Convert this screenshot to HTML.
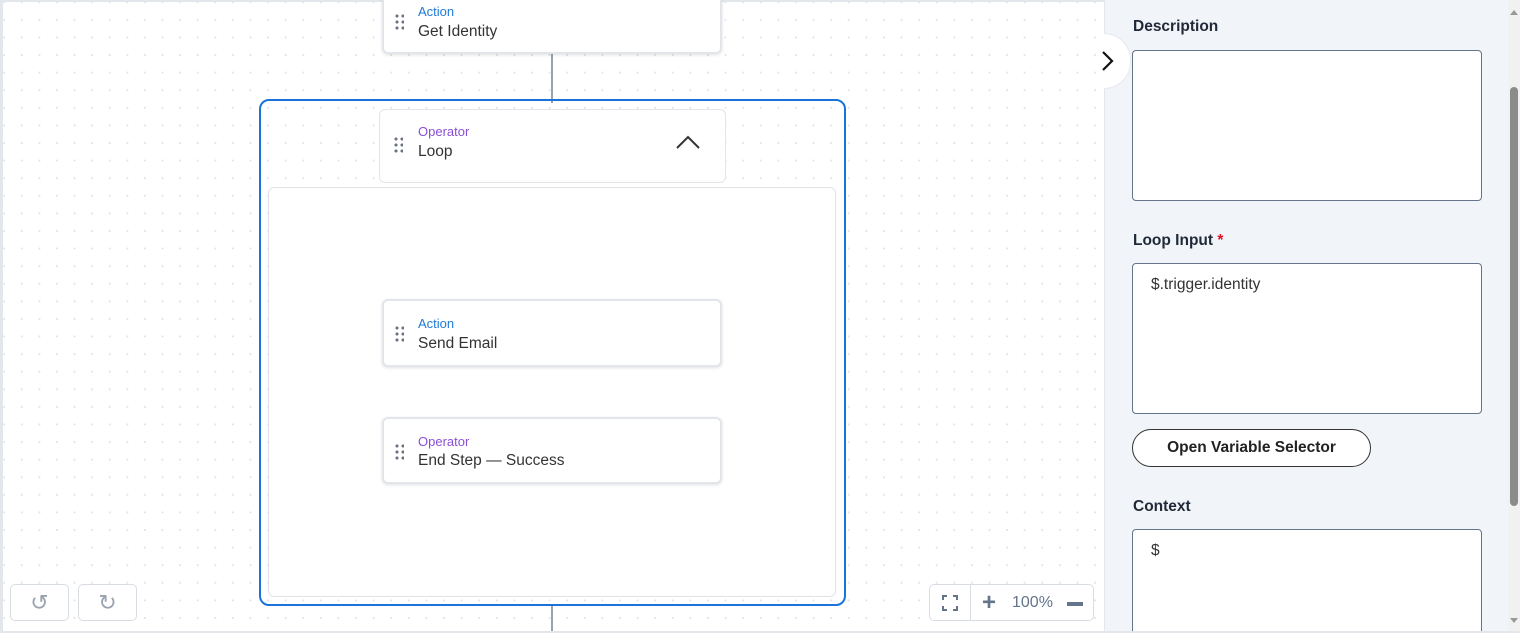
<!DOCTYPE html>
<html><head><meta charset="utf-8"><style>
*{box-sizing:border-box;margin:0;padding:0}
html,body{width:1520px;height:640px;overflow:hidden}
body{background:#fff;font-family:"Liberation Sans",sans-serif;position:relative}
.canvas{position:absolute;left:0;top:0;width:1104px;height:632px;background-color:#fff;background-image:radial-gradient(circle,#e1e4e8 0.9px,transparent 1.2px);background-size:17.6px 17.6px;background-position:10px 9px;border-top:2px solid #e3e7ec;border-left:3px solid #e3e7ec}
.abs{position:absolute}
.node{position:absolute;background:#fff;border:2px solid #e2e5e9;border-radius:6px;box-shadow:0 1px 3px rgba(0,0,0,.12)}
.grip{position:absolute;left:10px;width:10px;height:18px;background-image:radial-gradient(circle,#6b7280 1.4px,transparent 1.7px);background-size:6px 6px}
.t1{position:absolute;left:34px;font-size:13px}
.t2{position:absolute;left:34px;font-size:15.5px;color:#333}
.blue{color:#1e7ad8}.purple{color:#8a4fd6}
.line{position:absolute;left:551px;width:2px;background:#9aa3ad}
.panel{position:absolute;left:1104px;top:0;width:404px;height:632px;background:#f1f5f9;border-left:1px solid #e3e7ec;overflow:hidden}
.lbl{position:absolute;left:28px;font-size:15.5px;font-weight:bold;color:#1f2937}
.ta{position:absolute;left:27px;width:350px;background:#fff;border:1px solid #64748b;border-radius:4px;font-size:15.5px;color:#333;padding:12px 18px}
.btn{position:absolute;background:#fff;border:1px solid #d8dde3;border-radius:5px;color:#9aa3ad;font-size:22px;text-align:center}
</style></head><body>
<div class="canvas"></div>
<div class="line" style="top:53px;height:50px"></div>
<div class="line" style="top:366px;height:51px"></div>
<div class="line" style="top:605px;height:27px"></div>
<div class="node" style="left:382px;top:-12px;width:340px;height:66px"><div class="grip" style="top:23px"></div><div class="t1 blue" style="top:14px">Action</div><div class="t2" style="top:33px">Get Identity</div></div>
<div class="abs" style="left:259px;top:99px;width:587px;height:507px;border:2px solid #1a73d9;border-radius:10px"></div>
<div class="abs" style="left:268px;top:187px;width:568px;height:410px;border:1px solid #dfe3e8;border-radius:6px;background:#fff"></div>
<div class="node" style="left:379px;top:109px;width:347px;height:74px;box-shadow:none;border-width:1px"><div class="grip" style="top:26px;left:13px"></div><div class="t1 purple" style="top:14px;left:38px">Operator</div><div class="t2" style="top:33px;left:38px">Loop</div>
<svg class="abs" style="left:294px;top:24px" width="28" height="18"><polyline points="3,14 14,3 25,14" fill="none" stroke="#333" stroke-width="2"/></svg></div>
<div class="node" style="left:382px;top:299px;width:340px;height:68px"><div class="grip" style="top:24px"></div><div class="t1 blue" style="top:15px">Action</div><div class="t2" style="top:34px">Send Email</div></div>
<div class="node" style="left:382px;top:417px;width:340px;height:67px"><div class="grip" style="top:24px"></div><div class="t1 purple" style="top:15px">Operator</div><div class="t2" style="top:33px">End Step — Success</div></div>
<div class="btn" style="left:10px;top:584px;width:59px;height:37px;line-height:35px">↺</div>
<div class="btn" style="left:78px;top:584px;width:59px;height:37px;line-height:35px">↻</div>
<div class="btn" style="left:929px;top:584px;width:165px;height:37px;border-radius:5px;color:#64748b">
<div class="abs" style="left:40px;top:0;width:1px;height:35px;background:#d8dde3"></div>
<svg class="abs" style="left:12px;top:10px" width="16" height="16"><path d="M1 5V1H5M11 1H15V5M15 11V15H11M5 15H1V11" fill="none" stroke="#64748b" stroke-width="2"/></svg>
<div class="abs" style="left:52px;top:0;font-size:24px;font-weight:bold;line-height:35px">+</div>
<div class="abs" style="left:82px;top:0;font-size:16px;line-height:35px">100%</div>
<div class="abs" style="left:137px;top:17px;width:16px;height:4px;background:#64748b"></div>
</div>
<div class="panel">
<div class="lbl" style="top:18px">Description</div>
<div class="ta" style="top:50px;height:151px"></div>
<div class="lbl" style="top:232px">Loop Input <span style="color:#d12">*</span></div>
<div class="ta" style="top:263px;height:151px">$.trigger.identity</div>
<div class="abs" style="left:27px;top:429px;width:239px;height:38px;border:1px solid #333;border-radius:19px;background:#fff;font-size:15.5px;font-weight:bold;color:#222;text-align:center;line-height:36px">Open Variable Selector</div>
<div class="lbl" style="top:498px">Context</div>
<div class="ta" style="top:529px;height:130px">$</div>
</div>
<div class="abs" style="left:1104px;top:33px;width:27px;height:56px;border-radius:0 28px 28px 0;background:#fff;border:1px solid #e6e9ed;border-left:none"></div>
<svg class="abs" style="left:1100px;top:50px" width="16" height="22"><polyline points="3,2 12,11 3,20" fill="none" stroke="#111" stroke-width="2.2"/></svg>
<div class="abs" style="left:1508px;top:0;width:12px;height:632px;background:#f1f1f1"></div>
<div class="abs" style="left:1510px;top:87px;width:8px;height:419px;background:#8b8b8b;border-radius:4px"></div>
<div class="abs" style="left:1510px;top:10px;width:0;height:0;border-left:4px solid transparent;border-right:4px solid transparent;border-bottom:5px solid #999"></div>
<div class="abs" style="left:1510px;top:618px;width:0;height:0;border-left:4px solid transparent;border-right:4px solid transparent;border-top:5px solid #999"></div>
<div class="abs" style="left:0;top:631px;width:1520px;height:9px;background:#fff;border-top:2px solid #e3e7ec"></div>
</body></html>
